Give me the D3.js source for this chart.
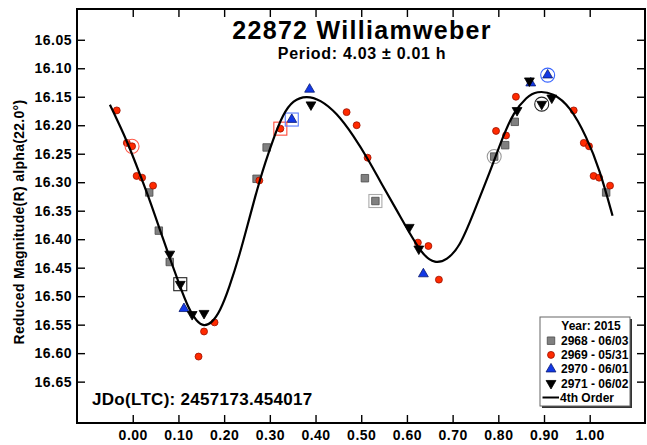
<!DOCTYPE html>
<html>
<head>
<meta charset="utf-8">
<script src="https://cdn.jsdelivr.net/npm/d3@7"></script>
<style>
  body { margin: 0; background: #fff; }
  svg { display: block; font-family: "Liberation Sans", Arial, sans-serif; font-weight: bold; }
</style>
</head>
<body>
<div id="chart"></div>
<script>
// session labels (legend)
const sessions = ['2968 - 06/03', '2969 - 05/31', '2970 - 06/01', '2971 - 06/02'];

// phase / reduced magnitude per session
const ph2968 = [0.036, 0.057, 0.081, 0.271, 0.293, 0.508, 0.531, 0.791, 0.815, 0.836];
const mag2968 = [16.318, 16.385, 16.440, 16.294, 16.239, 16.293, 16.333, 16.255, 16.235, 16.194];

const ph2969 = [0.0085, 0.0205, 0.0445, 0.144, 0.156, 0.179, 0.277, 0.323, 0.468, 0.490, 0.514,
                0.624, 0.647, 0.670, 0.795, 0.817, 0.8385, 0.965, 0.987, 0.9985];
const mag2969 = [16.289, 16.292, 16.306, 16.606, 16.562, 16.546, 16.297, 16.206, 16.177, 16.200, 16.257,
                 16.406, 16.412, 16.471, 16.210, 16.218, 16.150, 16.174, 16.231, 16.237];

const ph2970 = [0.112, 0.348, 0.387, 0.636, 0.871, 0.908];
const mag2970 = [16.522, 16.190, 16.137, 16.461, 16.126, 16.112];

const ph2971 = [0.081, 0.104, 0.130, 0.156, 0.390, 0.605, 0.626, 0.841, 0.868, 0.895, 0.917];
const mag2971 = [16.426, 16.479, 16.532, 16.530, 16.164, 16.379, 16.417, 16.174, 16.122, 16.163, 16.152];

// 4th order fit
const fitPhase = [-0.05, -0.012, 0.016, 0.038, 0.060, 0.085, 0.103, 0.121, 0.140, 0.156, 0.173, 0.191,
  0.211, 0.235, 0.249, 0.267, 0.278, 0.289, 0.307, 0.329, 0.351, 0.380, 0.410, 0.446, 0.483, 0.519,
  0.541, 0.577, 0.614, 0.636, 0.661, 0.687, 0.716, 0.745, 0.782, 0.811, 0.833, 0.862, 0.884, 0.920,
  0.957, 0.993, 1.022, 1.050];
const fitMag = [16.164, 16.228, 16.287, 16.333, 16.385, 16.442, 16.482, 16.520, 16.545, 16.553, 16.547, 16.527,
  16.486, 16.424, 16.382, 16.328, 16.297, 16.268, 16.225, 16.180, 16.156, 16.148, 16.155, 16.178, 16.218, 16.265,
  16.298, 16.348, 16.401, 16.428, 16.443, 16.437, 16.413, 16.356, 16.281, 16.218, 16.178, 16.150, 16.140, 16.143,
  16.167, 16.220, 16.278, 16.359];

// highlighted (boxed / ringed) observations
const markPhase = [-0.0015, 0.323, 0.348, 0.104, 0.531, 0.791, 0.895, 0.908];
const markMag = [16.237, 16.206, 16.190, 16.479, 16.333, 16.255, 16.163, 16.112];
const markShape = ['circle', 'square', 'square', 'square', 'square', 'circle', 'circle', 'circle'];
const markColor = ['#ff5a4a', '#ff4a3a', '#5a7dff', '#222', '#aaa', '#999', '#222', '#3a66ff'];

const xTicks = d3.range(0, 11).map(d => d / 10);
const yTicks = d3.range(0, 13).map(d => 16.05 + d * 0.05);

const width = 647, height = 445;
const L = 77, R = 645, T = 9, B = 423;

const svg = d3.select('#chart').append('svg').attr('width', width).attr('height', height);

const x = d3.scaleLinear().domain([-0.122, 1.121]).range([L, R]);
const y = d3.scaleLinear().domain([15.996, 16.7226]).range([T, B]);

// axes, ticks pointing inward
svg.append('g').attr('transform', 'translate(0,' + B + ')')
  .call(d3.axisBottom(x).tickValues(xTicks).tickSize(-8).tickPadding(7).tickFormat(d3.format('.2f')));
svg.append('g').attr('transform', 'translate(0,' + T + ')')
  .call(d3.axisTop(x).tickValues(xTicks).tickSize(-8).tickFormat(''));
svg.append('g').attr('transform', 'translate(' + L + ',0)')
  .call(d3.axisLeft(y).tickValues(yTicks).tickSize(-8).tickPadding(5).tickFormat(d3.format('.2f')));
svg.append('g').attr('transform', 'translate(' + R + ',0)')
  .call(d3.axisRight(y).tickValues(yTicks).tickSize(-8).tickFormat(''));

svg.selectAll('.domain').remove();
svg.selectAll('.tick line').attr('stroke', '#000').attr('stroke-width', 1.4);
svg.selectAll('.tick text').attr('fill', '#000').style('font-size', '14px')
  .style('font-weight', 'bold').style('letter-spacing', '0.5px')
  .style('font-family', '"Liberation Sans", Arial, sans-serif');

svg.append('rect').attr('x', L).attr('y', T).attr('width', R - L).attr('height', B - T)
  .attr('fill', 'none').attr('stroke', '#000').attr('stroke-width', 2);

// y title
svg.append('text').attr('transform', 'translate(24,222) rotate(-90)')
  .attr('text-anchor', 'middle').style('font-size', '14px').style('letter-spacing', '0.3px')
  .text('Reduced Magnitude(R) alpha(22.0\u00b0)');

// title
svg.append('text').attr('x', 362).attr('y', 39).attr('text-anchor', 'middle')
  .style('font-size', '25px').style('letter-spacing', '1.3px').text('22872 Williamweber');
svg.append('text').attr('x', 362).attr('y', 59).attr('text-anchor', 'middle')
  .style('font-size', '16px').style('letter-spacing', '0.7px').text('Period: 4.03 \u00b1 0.01 h');

svg.append('text').attr('x', 92).attr('y', 405).style('font-size', '17px')
  .style('letter-spacing', '0.3px').text('JDo(LTC): 2457173.454017');

// markers
const sym = {
  square: d3.symbol().type(d3.symbolSquare).size(56),
  circle: d3.symbol().type(d3.symbolCircle).size(38),
  up: d3.symbol().type(d3.symbolTriangle).size(42)
};
const styles = [
  { shape: 'square', fill: '#808080', stroke: '#4a4a4a', rot: 0 },
  { shape: 'circle', fill: '#ff2a00', stroke: '#9a1000', rot: 0 },
  { shape: 'up', fill: '#1238e6', stroke: '#0a1a70', rot: 0 },
  { shape: 'up', fill: '#000', stroke: '#000', rot: 180 }
];
const phases = [ph2968, ph2969, ph2970, ph2971];
const mags = [mag2968, mag2969, mag2970, mag2971];

// phase folded into the plotted range
function folded(ph, mg) {
  const out = [];
  ph.forEach((p, i) => {
    [p - 1, p, p + 1].forEach(q => { if (q >= -0.05 && q <= 1.05) out.push([q, mg[i]]); });
  });
  return out;
}

const points = svg.append('g');
styles.forEach((st, k) => {
  points.selectAll('path.s' + k).data(folded(phases[k], mags[k])).enter()
    .append('path').attr('class', 's' + k)
    .attr('d', sym[st.shape])
    .attr('transform', d => 'translate(' + x(d[0]) + ',' + y(d[1]) + ') rotate(' + st.rot + ')')
    .attr('fill', st.fill).attr('stroke', st.stroke).attr('stroke-width', 0.8);
});

// highlight frames
const marks = svg.append('g');
markPhase.forEach((p, i) => {
  if (markShape[i] === 'circle') {
    marks.append('circle').attr('cx', x(p)).attr('cy', y(markMag[i])).attr('r', 7)
      .attr('fill', 'none').attr('stroke', markColor[i]).attr('stroke-width', 1.1);
  } else {
    marks.append('rect').attr('x', x(p) - 6.5).attr('y', y(markMag[i]) - 6.5)
      .attr('width', 13).attr('height', 13)
      .attr('fill', 'none').attr('stroke', markColor[i]).attr('stroke-width', 1.1);
  }
});

// fit curve
svg.append('path').datum(fitPhase.map((p, i) => [p, fitMag[i]]))
  .attr('d', d3.line().x(d => x(d[0])).y(d => y(d[1])).curve(d3.curveBasis))
  .attr('fill', 'none').attr('stroke', '#000').attr('stroke-width', 2.2);

// legend
const lg = svg.append('g').attr('transform', 'translate(540,317)');
lg.append('rect').attr('x', 2).attr('y', 2).attr('width', 90).attr('height', 89).attr('fill', '#333');
lg.append('rect').attr('width', 90).attr('height', 89).attr('fill', '#fff')
  .attr('stroke', '#666').attr('stroke-width', 1);
lg.append('text').attr('x', 51).attr('y', 13).attr('text-anchor', 'middle')
  .style('font-size', '12px').text('Year: 2015');
sessions.forEach((s, k) => {
  const st = styles[k];
  const ry = 23.7 + k * 14.2;
  lg.append('path').attr('d', sym[st.shape])
    .attr('transform', 'translate(11,' + ry + ') rotate(' + st.rot + ')')
    .attr('fill', st.fill).attr('stroke', st.stroke).attr('stroke-width', 0.8);
  lg.append('text').attr('x', 21).attr('y', ry + 4.3).style('font-size', '12px').text(s);
});
lg.append('line').attr('x1', 2.5).attr('x2', 19).attr('y1', 80.5).attr('y2', 80.5)
  .attr('stroke', '#000').attr('stroke-width', 2);
lg.append('text').attr('x', 20).attr('y', 84.7).style('font-size', '12px').text('4th Order');
</script>
</body>
</html>
